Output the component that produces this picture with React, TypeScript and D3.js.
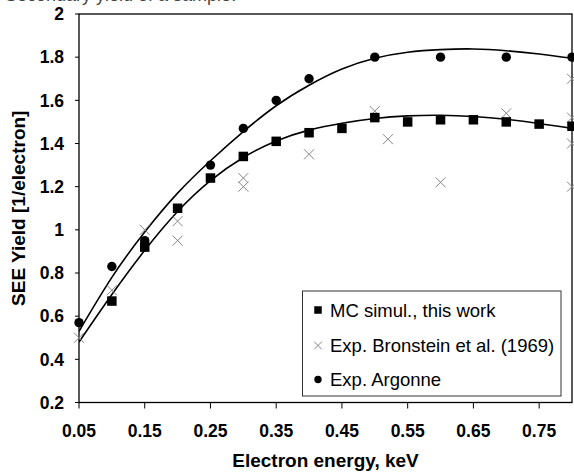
import React from "react";
import * as d3 from "d3";

// ---- data ----
const xTicks = [0.05, 0.15, 0.25, 0.35, 0.45, 0.55, 0.65, 0.75];
const yTicks = [0.2, 0.4, 0.6, 0.8, 1.0, 1.2, 1.4, 1.6, 1.8, 2.0];

const mcEnergy = [0.1, 0.15, 0.2, 0.25, 0.3, 0.35, 0.4, 0.45, 0.5, 0.55, 0.6, 0.65, 0.7, 0.75, 0.8];
const mcYield = [0.67, 0.92, 1.10, 1.24, 1.34, 1.41, 1.45, 1.47, 1.52, 1.50, 1.51, 1.51, 1.50, 1.49, 1.48];

const bronEnergy = [0.05, 0.1, 0.15, 0.2, 0.2, 0.3, 0.3, 0.4, 0.5, 0.52, 0.6, 0.7, 0.8, 0.8, 0.8, 0.8];
const bronYield = [0.50, 0.72, 1.00, 1.04, 0.95, 1.24, 1.20, 1.35, 1.55, 1.42, 1.22, 1.54, 1.70, 1.52, 1.40, 1.20];

const argEnergy = [0.05, 0.1, 0.15, 0.25, 0.3, 0.35, 0.4, 0.5, 0.6, 0.7, 0.8];
const argYield = [0.57, 0.83, 0.95, 1.30, 1.47, 1.60, 1.70, 1.80, 1.80, 1.80, 1.80];

// trendlines
const trendEnergy = [0.05, 0.1, 0.15, 0.2, 0.25, 0.3, 0.35, 0.4, 0.45, 0.5, 0.55, 0.6, 0.65, 0.7, 0.75, 0.8];
const trendMC = [0.48, 0.70, 0.905, 1.085, 1.228, 1.335, 1.412, 1.462, 1.494, 1.516, 1.528, 1.531, 1.525, 1.512, 1.493, 1.47];
const trendArg = [0.53, 0.78, 0.99, 1.17, 1.32, 1.455, 1.575, 1.67, 1.745, 1.795, 1.823, 1.835, 1.838, 1.83, 1.815, 1.795];

const legendLabels = ["MC simul., this work", "Exp. Bronstein et al. (1969)", "Exp. Argonne"];

const W = 574, H = 475;
const L = 79, R = 572, T = 14, B = 402.5;
const FONT = "'Liberation Sans', Arial, Helvetica, sans-serif";

export default function App() {
  const x = d3.scaleLinear().domain([0.05, 0.8]).range([L, R]);
  const y = d3.scaleLinear().domain([0.2, 2]).range([B, T]);

  const mkLine = (vals: number[]) =>
    d3
      .line<number>()
      .x((e) => x(e))
      .y((_, i) => y(vals[i]))
      .curve(d3.curveNatural)(trendEnergy) || "";
  const pathMC = mkLine(trendMC);
  const pathArg = mkLine(trendArg);

  const sq = 9.5, cr = 4.7, xs = 5;
  const cross = (cx: number, cy: number, s: number, key?: any) => (
    <g key={key} stroke="#858585" strokeWidth={1}>
      <line x1={cx - s} y1={cy - s} x2={cx + s} y2={cy + s} />
      <line x1={cx - s} y1={cy + s} x2={cx + s} y2={cy - s} />
    </g>
  );

  const legX = 302.5, legY = 291, legW = 258.5, legH = 105;
  const rowY = [310, 345.5, 379.5];

  return (
    <svg width={W} height={H} style={{ position: "absolute", left: 0, top: 0, background: "#fff" }} fontFamily={FONT}>
      <defs>
        <clipPath id="plotclip">
          <rect x={L} y={T} width={R - L} height={B - T} />
        </clipPath>
      </defs>
      <rect x={0} y={0} width={W} height={H} fill="#fff" />
      <text x={5} y={1} fontSize={18} fill="#444">Secondary yield of a sample:</text>

      {/* frame */}
      <rect x={L} y={T} width={R - L} height={B - T} fill="none" stroke="#000" strokeWidth={1.3} />

      {/* y ticks */}
      {yTicks.map((v) => (
        <g key={"y" + v}>
          <line x1={L - 4} x2={L} y1={y(v)} y2={y(v)} stroke="#000" strokeWidth={1} />
          <text x={64} y={y(v)} dy="0.36em" textAnchor="end" fontSize={17.5} fontWeight="bold" fill="#000">
            {String(+v.toFixed(1))}
          </text>
        </g>
      ))}
      {/* x ticks */}
      {xTicks.map((v) => (
        <g key={"x" + v}>
          <line x1={x(v)} x2={x(v)} y1={B} y2={B + 6} stroke="#000" strokeWidth={1} />
          <text x={x(v)} y={437} textAnchor="middle" fontSize={17.5} fontWeight="bold" fill="#000">
            {v.toFixed(2)}
          </text>
        </g>
      ))}

      <text x={(L + R) / 2} y={467} textAnchor="middle" fontSize={19} fontWeight="bold" fill="#000">
        Electron energy, keV
      </text>
      <text transform={`translate(25,${(T + B) / 2}) rotate(-90)`} textAnchor="middle" fontSize={19} fontWeight="bold" fill="#000">
        SEE Yield [1/electron]
      </text>

      {/* trendlines */}
      <g clipPath="url(#plotclip)" fill="none" stroke="#000" strokeWidth={1.6}>
        <path d={pathArg} />
        <path d={pathMC} />
      </g>

      {/* Bronstein crosses */}
      {bronEnergy.map((e, i) => cross(x(e), y(bronYield[i]), xs, "b" + i))}
      {/* MC squares */}
      {mcEnergy.map((e, i) => (
        <rect key={"m" + i} x={x(e) - sq / 2} y={y(mcYield[i]) - sq / 2} width={sq} height={sq} fill="#000" />
      ))}
      {/* Argonne circles */}
      {argEnergy.map((e, i) => (
        <circle key={"a" + i} cx={x(e)} cy={y(argYield[i])} r={cr} fill="#000" />
      ))}

      {/* legend */}
      <rect x={legX} y={legY} width={legW} height={legH} fill="#fff" stroke="#333" strokeWidth={1} />
      <rect x={318 - 3.75} y={rowY[0] - 3.75} width={7.5} height={7.5} fill="#000" />
      {cross(318, rowY[1], 3.8)}
      <circle cx={318} cy={rowY[2]} r={3.7} fill="#000" />
      {legendLabels.map((t, i) => (
        <text key={t} x={330} y={rowY[i]} dy="0.36em" fontSize={18.5} fill="#000">
          {t}
        </text>
      ))}
    </svg>
  );
}
